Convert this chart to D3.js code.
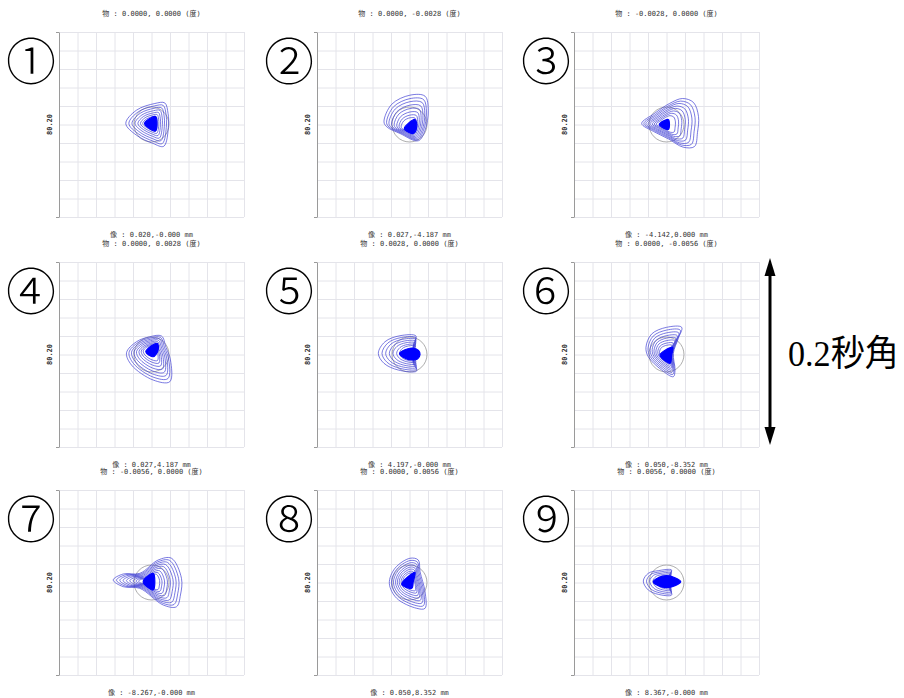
<!DOCTYPE html>
<html>
<head>
<meta charset="utf-8">
<script src="https://cdn.jsdelivr.net/npm/d3@7"></script>
<style>
  html, body { margin: 0; padding: 0; background: #fff; }
  svg { display: block; }
</style>
</head>
<body>
<svg id="chart" width="904" height="698"></svg>
<script>
// Spot diagrams for nine field positions. Units: milli-arcseconds (mas), y up.
// The plot box spans ±100 mas (0.2 arcsec), grid every 20 mas.

const panelMarks = ["①", "②", "③", "④", "⑤", "⑥", "⑦", "⑧", "⑨"];

const objectLabels = [
  "物 : 0.0000, 0.0000 (度)",
  "物 : 0.0000, -0.0028 (度)",
  "物 : -0.0028, 0.0000 (度)",
  "物 : 0.0000, 0.0028 (度)",
  "物 : 0.0028, 0.0000 (度)",
  "物 : 0.0000, -0.0056 (度)",
  "物 : -0.0056, 0.0000 (度)",
  "物 : 0.0000, 0.0056 (度)",
  "物 : 0.0056, 0.0000 (度)"
];

const imageLabels = [
  "像 : 0.020,-0.000 mm",
  "像 : 0.027,-4.187 mm",
  "像 : -4.142,0.000 mm",
  "像 : 0.027,4.187 mm",
  "像 : 4.197,-0.000 mm",
  "像 : 0.050,-8.352 mm",
  "像 : -8.267,-0.000 mm",
  "像 : 0.050,8.352 mm",
  "像 : 8.367,-0.000 mm"
];

const scaleLabel = "80.20";
const arrowLabel = "0.2秒角";
const airyRadius = 18.9;           // mas
const gridTicks = [-100, -80, -60, -40, -20, 0, 20, 40, 60, 80, 100];

// Outer ray ring of each spot (mas)
const outerRings = [
  [[-27.8,1.1],[-16.2,15.5],[3.6,22.7],[14.4,23.3],[17.9,11.9],[18.4,-0.8],[13.3,-23.5],[1.7,-20.5],[-16.2,-11.6]],
  [[-27.6,2.9],[-19.2,21.9],[0.5,31.7],[16.8,30.6],[20.3,15.5],[16.8,-6.2],[9.5,-17.6],[-10.3,-9.7],[-24.6,-2.5]],
  [[-26.8,1.1],[-13,11.9],[3.2,22.7],[17.3,28.1],[29.2,23.8],[34.6,8.6],[33.5,-8.6],[30.3,-23.8],[18,-24.5],[2,-15.5],[-14,-7.5]],
  [[-27,1.9],[-16.2,13.8],[-1.8,19.2],[10.8,20],[15.7,7.6],[20.5,-5.9],[19.8,-29.4],[1.8,-27.6],[-21.6,-11.4]],
  [[-33.7,1.3],[-26.5,13.8],[-10.3,20.3],[7,20],[4.1,10.3],[3.5,1.3],[4.1,-9.5],[7.8,-17.8],[-12.1,-16.8],[-27.6,-9.5]],
  [[-22.2,7.8],[-16,22.2],[0.2,29.4],[16.4,29.4],[12.8,17.5],[7.4,1.3],[9.2,-16.8],[7.4,-24],[-5.2,-16.8],[-19.7,-2.4]],
  [[-41.4,2.7],[-30.6,9.2],[-12.6,9.9],[7.2,24.3],[21.6,26.2],[32.4,4.5],[31.3,-13.5],[27,-26.2],[12.6,-24.3],[-12.6,-6.3],[-30.6,-4.5]],
  [[0.5,26.2],[9.5,24.3],[11.4,11.7],[16.8,-9.9],[16.8,-27.9],[7.8,-27.9],[-13.8,-17.1],[-21.8,-0.9],[-15.7,15.4]],
  [[-25.1,1.6],[-19.7,9.9],[-8.9,12.8],[5.6,13.5],[1.9,6.3],[0.2,0.9],[1.9,-4.5],[5.6,-13.5],[-8.9,-12.8],[-19.7,-8.1]]
];

// Point toward which inner rings contract (mas)
const ringApex = [
  [0,1.1],[0.5,-5.4],[-3.2,0],[0,4.9],[5.9,1.3],[0.2,-0.5],[-1.8,0.9],[0.5,1.6],[3.8,0.9]
];

// Relative size of each traced ring
const ringSizes = [
  [1,0.88,0.76,0.64,0.53,0.43,0.34],
  [1,0.9,0.81,0.71,0.61,0.51,0.42,0.34],
  [1,0.9,0.81,0.71,0.62,0.52,0.43,0.34],
  [1,0.9,0.8,0.7,0.6,0.5,0.41,0.33],
  [1,0.9,0.8,0.7,0.6,0.5,0.42],
  [1,0.9,0.8,0.7,0.61,0.52,0.43,0.35],
  [1,0.91,0.82,0.73,0.64,0.55,0.46,0.38,0.31],
  [1,0.9,0.8,0.7,0.61,0.52,0.43,0.35],
  [1,0.88,0.76,0.64,0.53]
];

// Dense ray core of each spot (mas)
const denseCores = [
  [[-7.5,1.1],[4.3,8.6],[5.9,0],[4.3,-7]],
  [[5.9,5.4],[7.8,-2.5],[4.1,-9.7],[-5.6,-4.3]],
  [[-7.8,0],[1.9,5.4],[3.2,0],[1.9,-5.4]],
  [[6.2,12.1],[7.2,4.9],[1.8,-2.4],[-6.2,3]],
  [[-10.8,1.1],[-4.3,5.4],[3.2,7],[9.7,4.3],[11.4,0],[8.6,-4.9],[2.2,-5.9],[-5.4,-3.8]],
  [[6.7,7.8],[5.6,-0.5],[3.8,-9.5],[-7,-0.5]],
  [[-9,0.9],[1.8,9.9],[3.6,0.9],[1.8,-8.1]],
  [[5.9,11],[4.1,0.9],[2.4,-6.3],[-8.4,-1.9]],
  [[-14.3,0.9],[-8.9,5.2],[0.2,7.4],[9.2,5.2],[15.4,0.9],[9.2,-3.5],[0.2,-5.6],[-8.9,-3.5]]
];

// ---- layout ----
const size = 185;
const colLeft = [59, 317, 574];
const rowTop = [32, 262, 490];

const x = d3.scaleLinear().domain([-100, 100]).range([0, size]);
const y = d3.scaleLinear().domain([-100, 100]).range([size, 0]);

const svg = d3.select("#chart");
const labelFont = "'DejaVu Sans Mono', 'Noto Sans CJK JP', monospace";

const ringLine = d3.line()
  .x(d => x(d[0]))
  .y(d => y(d[1]))
  .curve(d3.curveCatmullRomClosed.alpha(0.5));

panelMarks.forEach((mark, i) => {
  const col = i % 3, row = Math.floor(i / 3);
  const g = svg.append("g").attr("transform", `translate(${colLeft[col]},${rowTop[row]})`);

  // grid
  g.append("g")
    .call(d3.axisBottom(x).tickValues(gridTicks).tickSize(size).tickFormat(""))
    .call(s => s.select(".domain").remove())
    .call(s => s.selectAll("line").attr("stroke", "#e4e4ea").attr("stroke-width", 1));
  g.append("g")
    .call(d3.axisRight(y).tickValues(gridTicks).tickSize(size).tickFormat(""))
    .call(s => s.select(".domain").remove())
    .call(s => s.selectAll("line").attr("stroke", "#e4e4ea").attr("stroke-width", 1));

  // left axis
  g.append("g")
    .call(d3.axisLeft(y).tickValues([-100, 100]).tickSize(3).tickSizeOuter(0).tickFormat(""))
    .call(s => s.select(".domain").attr("stroke", "#9a9a9a"))
    .call(s => s.selectAll("line").attr("stroke", "#9a9a9a"));

  g.append("text")
    .attr("transform", `translate(-7,${y(0)}) rotate(-90)`)
    .attr("text-anchor", "middle")
    .attr("font-family", labelFont)
    .attr("font-size", 7)
    .attr("font-weight", "bold")
    .attr("fill", "#333")
    .text(scaleLabel);

  // Airy disk
  g.append("circle")
    .attr("cx", x(0)).attr("cy", y(0))
    .attr("r", x(airyRadius) - x(0))
    .attr("fill", "none")
    .attr("stroke", "#a4a4a4")
    .attr("stroke-width", 0.9);

  // traced rings
  const apex = ringApex[i];
  const rings = ringSizes[i].map(s =>
    outerRings[i].map(p => [apex[0] + s * (p[0] - apex[0]), apex[1] + s * (p[1] - apex[1])]));
  g.selectAll("path.ring").data(rings).join("path")
    .attr("class", "ring")
    .attr("d", ringLine)
    .attr("fill", "none")
    .attr("stroke", "#3a3ad2")
    .attr("stroke-opacity", 0.85)
    .attr("stroke-width", 0.8);

  // dense core
  g.append("path")
    .attr("d", ringLine(denseCores[i]))
    .attr("fill", "#0000ff")
    .attr("stroke", "#0000ff")
    .attr("stroke-width", 1.2);

  // field labels
  g.append("text")
    .attr("x", size / 2).attr("y", -16)
    .attr("text-anchor", "middle")
    .attr("font-family", labelFont)
    .attr("font-size", 7)
    .attr("fill", "#333")
    .text(objectLabels[i]);
  g.append("text")
    .attr("x", size / 2).attr("y", size + 20)
    .attr("text-anchor", "middle")
    .attr("font-family", labelFont)
    .attr("font-size", 7)
    .attr("fill", "#333")
    .text(imageLabels[i]);

  // panel number
  svg.append("text")
    .attr("x", colLeft[col] - 28)
    .attr("y", rowTop[row] + 48)
    .attr("text-anchor", "middle")
    .attr("font-family", "'DejaVu Serif', 'Noto Sans CJK JP', serif")
    .attr("font-size", 50)
    .attr("font-weight", 300)
    .attr("fill", "#000")
    .text(mark);
});

// scale arrow: 0.2 arcsec spans the full plot height
const arrowX = 770;
const arrowTop = rowTop[1] + y(100) - 4;
const arrowBottom = rowTop[1] + y(-100) - 2;
svg.append("line")
  .attr("x1", arrowX).attr("x2", arrowX)
  .attr("y1", arrowTop + 12).attr("y2", arrowBottom - 12)
  .attr("stroke", "#000").attr("stroke-width", 3);
svg.append("path")
  .attr("d", `M${arrowX},${arrowTop} L${arrowX - 5.5},${arrowTop + 18} L${arrowX + 5.5},${arrowTop + 18} Z`)
  .attr("fill", "#000");
svg.append("path")
  .attr("d", `M${arrowX},${arrowBottom} L${arrowX - 5.5},${arrowBottom - 18} L${arrowX + 5.5},${arrowBottom - 18} Z`)
  .attr("fill", "#000");
svg.append("text")
  .attr("x", 788).attr("y", 366)
  .attr("font-family", "'Liberation Serif', 'Noto Sans CJK JP', serif")
  .attr("font-size", 36)
  .attr("textLength", 111)
  .attr("lengthAdjust", "spacingAndGlyphs")
  .attr("fill", "#000")
  .text(arrowLabel);
</script>
</body>
</html>
